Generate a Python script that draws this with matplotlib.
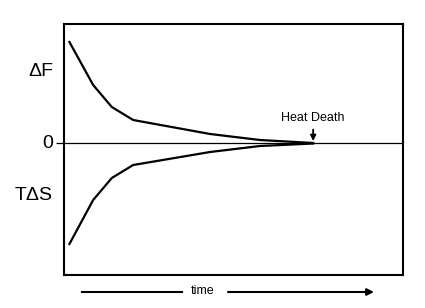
import matplotlib
matplotlib.use("Agg")
import matplotlib.pyplot as plt

plt.rcParams['font.family'] = ['Liberation Sans', 'DejaVu Sans']

# data (time in arbitrary units, values in arbitrary units)
time = [1.6, 8.6, 14.1, 20.4, 43.1, 57.8, 73.5]
delta_F = [101, 58, 36, 23, 9, 3, 0]
T_delta_S = [-101, -57, -35, -22, -9, -3, -0.5]
y_labels = ["ΔF", "0", "TΔS"]
y_label_pos = [71, 0, -53]
heat_death_t = 73.5

fig = plt.figure(figsize=(4.25, 3.08), dpi=100)
ax = fig.add_axes([64/425, 33/308, 339/425, 251/308])
ax.set_xlim(0, 100)
ax.set_ylim(-132, 119)

ax.axhline(0, color='black', lw=0.9)
ax.plot(time, delta_F, color='black', lw=1.6, solid_joinstyle='miter')
ax.plot(time, T_delta_S, color='black', lw=1.6, solid_joinstyle='miter')

for s in ax.spines.values():
    s.set_linewidth(1.5)

ax.set_xticks([])
ax.set_yticks([0])
ax.set_yticklabels([""])
ax.tick_params(axis='y', length=6, width=0.9, direction='out')

for lab, yp in zip(y_labels, y_label_pos):
    ax.annotate(lab, xy=(0, yp), xycoords=('axes fraction', 'data'),
                xytext=(-8, 0), textcoords='offset points',
                ha='right', va='center', fontsize=14)

ax.annotate("Heat Death", xy=(heat_death_t, 2), xytext=(heat_death_t, 19),
            ha='center', va='bottom', fontsize=9,
            arrowprops=dict(arrowstyle='-|>', color='black', lw=1.3,
                            mutation_scale=8, shrinkA=2, shrinkB=0))

# time arrow below axes
fig.text(203/425, 1 - 291/308, "time", ha='center', va='center', fontsize=9)
fig.add_artist(plt.Line2D([82/425, 182/425], [1 - 292/308]*2, color='black', lw=1.5,
                          transform=fig.transFigure))
fig.add_artist(matplotlib.patches.FancyArrowPatch(
    (228/425, 1 - 292/308), (374/425, 1 - 292/308), transform=fig.transFigure,
    arrowstyle='-|>', mutation_scale=10, color='black', lw=1.5, shrinkA=0, shrinkB=0))

fig.savefig("out.png", dpi=100)
